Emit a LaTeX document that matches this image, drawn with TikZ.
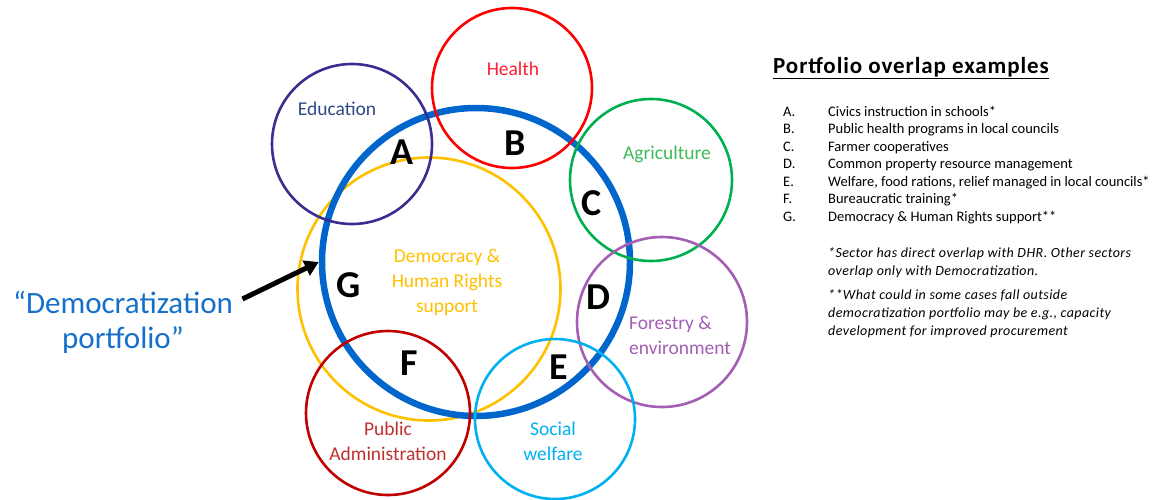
\documentclass[tikz,border=0pt]{standalone}
\usepackage{fontspec}
\setmainfont{Carlito}
\usepackage{xcolor}
\definecolor{PortfolioBlue}{HTML}{0066CC}
\definecolor{PortfolioText}{HTML}{1570CC}
\definecolor{DHRYellow}{HTML}{FFC000}
\definecolor{EduIndigo}{HTML}{3C2D91}
\definecolor{EduText}{HTML}{2F4A85}
\definecolor{HealthRed}{HTML}{FF0000}
\definecolor{HealthText}{HTML}{FF2030}
\definecolor{AgriGreen}{HTML}{00B050}
\definecolor{AgriText}{HTML}{3DBB5A}
\definecolor{ForestPurple}{HTML}{A45EB4}
\definecolor{SocialBlue}{HTML}{00B0F0}
\definecolor{AdminRed}{HTML}{C00000}
\definecolor{AdminText}{HTML}{C0302F}
\usepackage{tikz}
\usetikzlibrary{arrows.meta, positioning}
\tikzset{
  % Circle styles
  sectorcircle/.style={circle, draw=#1, line width=2.6pt, inner sep=0pt},
  % Text styles
  sectorlabel/.style={text=#1, font=\fontsize{19.5}{25}\selectfont, align=center, inner sep=0pt},
  overlap/.style={font=\bfseries\fontsize{38}{40}\selectfont, inner sep=0pt},
  listtext/.style={font=\fontsize{14.5}{17.5}\selectfont, anchor=base west, inner sep=0pt},
  notetext/.style={font=\itshape\fontsize{14}{18}\selectfont\addfontfeature{LetterSpace=3}, align=left, anchor=north west, inner sep=0pt},
  % Arrow styles
  pointer/.style={-{Triangle[length=14pt,width=16pt]}, line width=5pt, black}
}

\begin{document}
\begin{tikzpicture}[x=1pt, y=-1pt]
  \useasboundingbox (0,0) rectangle (1162,499);

  % Portfolio circles
  \node[sectorcircle=DHRYellow, minimum size=263pt] (dhr) at (429,289) {};
  \node[sectorcircle=PortfolioBlue, line width=6.5pt, minimum size=308pt] (dem) at (476,262) {};

  % Sector circles
  \node[sectorcircle=EduIndigo, minimum size=160pt] (edu) at (352,144) {};
  \node[sectorcircle=HealthRed, minimum size=160pt] (health) at (512,88) {};
  \node[sectorcircle=AgriGreen, minimum size=162pt] (agri) at (651,180) {};
  \node[sectorcircle=ForestPurple, minimum size=170pt] (forest) at (662,322) {};
  \node[sectorcircle=SocialBlue, minimum size=160pt] (social) at (555,419) {};
  \node[sectorcircle=AdminRed, minimum size=164pt] (admin) at (388,413) {};

  % Sector labels
  \node[sectorlabel=EduText, anchor=base] (edulabel) at (337,115) {Education};
  \node[sectorlabel=HealthText, anchor=base] (healthlabel) at (513,75) {Health};
  \node[sectorlabel=AgriText, anchor=base] (agrilabel) at (667,159) {Agriculture};
  \node[sectorlabel=ForestPurple, align=left, anchor=west] (forestlabel) at (629,335) {Forestry \&\\environment};
  \node[sectorlabel=SocialBlue] (sociallabel) at (553,441) {Social\\welfare};
  \node[sectorlabel=AdminText] (adminlabel) at (388,441) {Public\\Administration};
  \node[sectorlabel=DHRYellow] (dhrlabel) at (447,282) {Democracy \&\\Human Rights\\support};

  % Overlap letters
  \foreach \l/\x/\y in {A/402/152, B/515/143, C/592/203, D/598/297, E/559/367, F/409/363, G/349/285} {
    \node[overlap] (letter\l) at (\x,\y) {\l};
  }

  % Portfolio label and pointer
  \node[text=PortfolioText, font=\fontsize{31}{35}\selectfont, align=center] (portfolio) at (123,322) {“Democratization\\portfolio”};
  \draw[pointer] ([shift={(6pt,23pt)}]portfolio.east) -- (dem.west);

  % Examples list
  \node[font=\bfseries\fontsize{23}{26}\selectfont\addfontfeature{LetterSpace=4}, anchor=base west, inner sep=0pt] (title) at (773,73) {\underline{Portfolio overlap examples}};
  \foreach \i/\l/\t in {0/A/{Civics instruction in schools*}, 1/B/{Public health programs in local councils}, 2/C/{Farmer cooperatives}, 3/D/{Common property resource management}, 4/E/{Welfare, food rations, relief managed in local councils*}, 5/F/{Bureaucratic training*}, 6/G/{Democracy \& Human Rights support**}} {
    \node[listtext] (key\l) at (783,116+17.5*\i) {\l.};
    \node[listtext] (item\l) at (828,116+17.5*\i) {\t};
  }

  % Footnotes
  \node[notetext] (note1) at (828,247) {*Sector has direct overlap with DHR. Other sectors\\overlap only with Democratization.};
  \node[notetext] (note2) at (828,289) {**What could in some cases fall outside\\democratization portfolio may be e.g., capacity\\development for improved procurement};
\end{tikzpicture}
\end{document}
